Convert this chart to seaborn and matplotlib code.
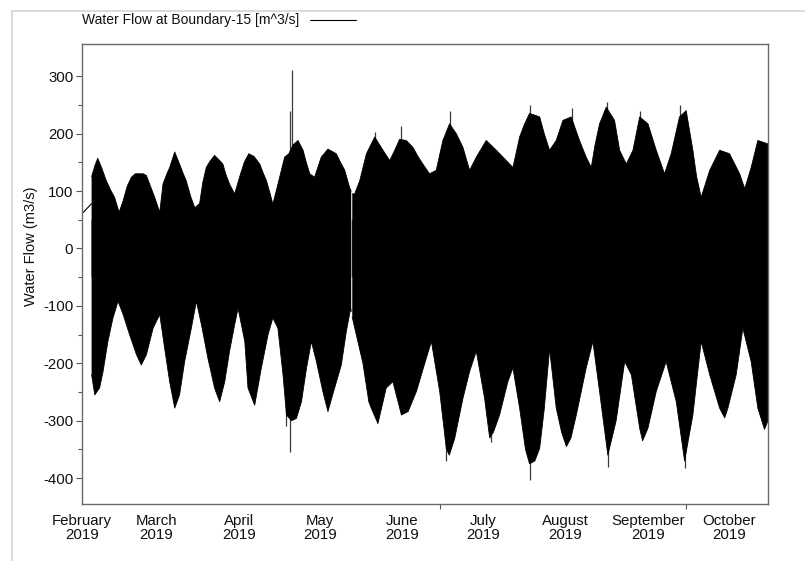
import numpy as np
import pandas as pd
import matplotlib
matplotlib.use("Agg")
import matplotlib.pyplot as plt
import seaborn as sns
from matplotlib.lines import Line2D

# ---------------- data ----------------
START = "2019-02-01"
SERIES_NAME = "Water Flow at Boundary-15 [m^3/s]"
Y_LABEL = "Water Flow (m3/s)"

# short connecting line before the dense record starts
LEAD_DAYS = [0.0, 3.7]
LEAD_FLOW = [60, 78]

# upper envelope of the tidal flow record (days after 1 Feb 2019, m3/s)
UP_DAYS = [3.7, 5.0, 6.0, 7.5, 9.2, 11.0, 12.3, 14.0, 15.5, 17.0, 18.6, 20.0,
           21.7, 23.0, 24.2, 26.0, 27.3, 29.2, 30.4, 31.7, 32.9, 34.8, 36.6,
           38.0, 39.1, 40.8, 42.3, 44.1, 45.3, 46.6, 48.0, 49.7, 51.2, 52.8,
           54.0, 55.3, 57.2, 59.1, 60.8, 62.5, 64.5, 66.6, 68.0, 69.1, 70.5,
           71.5, 73.4, 75.9, 77.5, 79.0, 80.9, 82.8, 84.0, 85.3, 87.1, 89.6,
           92.1, 95.2, 96.8, 98.4, 100.2, 100.8, 101.0, 101.2, 102.1, 104.0,
           106.5, 109.6, 112.7, 115.2, 117.0, 118.9, 121.4, 123.9, 125.8,
           127.6, 130.1, 132.6, 135.1, 137.6, 140.1, 142.6, 145.1, 147.6,
           151.3, 155.1, 158.8, 161.3, 163.8, 165.5, 167.5, 169.5, 171.3,
           173.0, 175.0, 177.5, 180.0, 183.1, 186.2, 188.7, 190.6, 192.0,
           193.7, 196.2, 199.3, 201.2, 203.7, 206.2, 208.7, 211.8, 214.9,
           218.0, 220.5, 223.6, 226.1, 228.6, 230.0, 231.7, 234.9, 238.6,
           242.3, 246.1, 248.0, 250.4, 252.9, 256.7]
UP_FLOW = [125, 145, 157, 140, 118, 100, 89, 63, 83, 108, 124, 130,
           130, 130, 127, 105, 89, 63, 112, 128, 141, 168, 147,
           130, 118, 90, 71, 78, 115, 141, 152, 162, 155, 147,
           128, 112, 95, 125, 150, 165, 160, 147, 130, 118, 95,
           77, 112, 159, 165, 180, 188, 171, 150, 130, 124, 159,
           173, 165, 150, 136, 106, 100, np.nan, 95, 95, 118,
           165, 194, 171, 153, 170, 190, 188, 176, 160,
           147, 130, 136, 188, 217, 200, 176, 136, 159,
           188, 171, 153, 141, 194, 215, 235, 232, 229,
           200, 171, 188, 223, 229, 188, 159, 141, 180,
           217, 246, 223, 171, 147, 171, 229, 217, 171,
           130, 165, 229, 240, 171, 125, 89, 136, 171,
           165, 130, 104, 141, 188, 182]

# lower envelope of the tidal flow record
LO_DAYS = [3.7, 4.9, 6.7, 8.0, 9.8, 11.7, 13.6, 15.5, 17.9, 20.5, 22.3, 24.2,
           26.7, 29.2, 31.0, 32.9, 34.8, 36.6, 38.5, 41.0, 42.9, 44.8, 47.2,
           49.7, 51.6, 53.5, 55.3, 57.2, 58.5, 61.0, 62.2, 64.7, 67.2, 69.7,
           71.5, 73.4, 75.3, 76.6, 78.5, 80.3, 82.2, 84.1, 85.9, 87.8, 90.2,
           92.1, 94.6, 97.1, 99.0, 100.6, 100.8, 101.0, 101.2, 102.7, 105.2,
           107.4, 108.3, 110.8, 113.9, 116.4, 119.6, 122.1, 125.2, 128.9,
           130.8, 133.9, 136.4, 137.5, 139.5, 142.6, 145.1, 147.6, 150.7,
           152.6, 154.0, 156.3, 159.4, 161.3, 163.8, 166.0, 167.5, 169.5,
           171.3, 173.0, 175.0, 177.5, 179.5, 181.3, 183.0, 185.0, 188.7,
           191.2, 193.7, 196.8, 199.9, 203.1, 205.6, 208.7, 209.8, 211.8,
           214.9, 218.6, 222.4, 225.5, 228.6, 231.7, 234.9, 238.6, 240.5,
           241.7, 244.8, 247.3, 250.4, 252.9, 255.4, 256.7]
LO_FLOW = [-220, -255, -243, -214, -162, -121, -92, -115, -150, -185, -203, -185,
           -139, -115, -173, -232, -278, -255, -197, -139, -92, -133, -191,
           -243, -267, -232, -179, -133, -104, -162, -243, -273, -208, -150,
           -121, -139, -220, -290, -300, -296, -267, -208, -162, -197, -249,
           -284, -243, -203, -144, -104, -110, np.nan, -120, -150, -200,
           -267, -278, -305, -243, -232, -290, -284, -249, -191,
           -162, -249, -349, -360, -331, -261, -214, -179, -261,
           -330, -320, -290, -232, -208, -278, -350, -375, -370,
           -348, -280, -175, -278, -320, -345, -330, -290, -208,
           -162, -249, -360, -300, -197, -220, -313, -335, -313,
           -249, -197, -267, -370, -290, -162, -220, -278, -295,
           -278, -220, -139, -197, -278, -315, -300]

# isolated spikes that stand out of the band
SPIKE_DAYS = [77.8, 78.8, 109.8, 119.6, 137.6, 167.8, 183.5, 196.5, 209.0, 223.6,
              76.6, 77.8, 136.4, 167.5, 196.8, 225.5, 153.2]
SPIKE_FLOW = [240, 310, 203, 214, 240, 250, 245, 255, 240, 250,
              -310, -354, -370, -404, -380, -383, -337]

MONTH_DATES = ["2019-02-01", "2019-03-01", "2019-04-01", "2019-05-01", "2019-06-01",
               "2019-07-01", "2019-08-01", "2019-09-01", "2019-10-01"]
MONTH_NAMES = ["February", "March", "April", "May", "June", "July", "August",
               "September", "October"]
YEAR = "2019"
MINOR_X_DATES = ["2019-06-15", "2019-09-15"]
Y_TICKS = [-400, -300, -200, -100, 0, 100, 200, 300]
Y_MINOR = [-350, -250, -150, -50, 50, 150, 250]

# ---------------- drawing ----------------
sns.set_theme(style="ticks")
plt.rcParams["font.family"] = ["Liberation Sans", "DejaVu Sans"]

start = pd.Timestamp(START)
def to_time(days):
    return start + pd.to_timedelta(np.asarray(days, dtype=float), unit="D")

t_up = to_time(UP_DAYS)
t_lo = to_time(LO_DAYS)
up = np.asarray(UP_FLOW, dtype=float)
lo = np.asarray(LO_FLOW, dtype=float)

fig = plt.figure(figsize=(8.05, 5.61), dpi=100)
ax = fig.add_axes([81.7 / 805, 1 - 504 / 561, (768 - 81.7) / 805, (504 - 44) / 561])

# spikes drawn underneath so only the part outside the band shows
ax.vlines(to_time(SPIKE_DAYS), 0, SPIKE_FLOW, color="#3a3a3a", linewidth=0.9,
          zorder=1)
# the two halves overlap around zero so no seam shows
ax.fill_between(t_up, -50, up, facecolor="black", linewidth=0, zorder=2)
ax.fill_between(t_lo, lo, 50, facecolor="black", linewidth=0, zorder=2)
ax.plot(t_up, up, color="black", linewidth=0.6, zorder=2)
ax.plot(t_lo, lo, color="black", linewidth=0.6, zorder=2)

lead = pd.DataFrame({"t": to_time(LEAD_DAYS), "flow": LEAD_FLOW})
sns.lineplot(data=lead, x="t", y="flow", ax=ax, color="black", linewidth=0.8)

ax.set_xlim(to_time([0.0])[0], to_time([256.7])[0])
ax.set_ylim(-445, 356)

ax.set_yticks(Y_TICKS)
ax.set_yticklabels([str(v) for v in Y_TICKS])
ax.set_yticks(Y_MINOR, minor=True)

ax.set_xticks(pd.to_datetime(MONTH_DATES))
ax.set_xticklabels([f"{m}\n{YEAR}" for m in MONTH_NAMES])
ax.set_xticks(pd.to_datetime(MINOR_X_DATES), minor=True)

ax.set_xlabel("")
ax.set_ylabel("")
ax.tick_params(axis="y", which="major", direction="out", length=4, width=0.8,
               color="#555555", labelsize=10.8, pad=2, labelcolor="#111111")
ax.tick_params(axis="y", which="minor", direction="out", length=3, width=0.8,
               color="#555555")
ax.tick_params(axis="x", which="major", length=0, labelsize=10.8, pad=7,
               labelcolor="#111111")
ax.tick_params(axis="x", which="minor", direction="out", length=3.5, width=0.8,
               color="#555555")
for lab in ax.get_xticklabels():
    lab.set_linespacing(1.05)

for side in ["left", "right", "top", "bottom"]:
    ax.spines[side].set_visible(True)
    ax.spines[side].set_color("#6a6a6a")
    ax.spines[side].set_linewidth(1.0)
ax.grid(False)
ax.set_facecolor("white")

# y label
fig.text(31 / 805, 1 - 246 / 561, Y_LABEL, rotation=90, ha="center", va="center",
         fontsize=10.5, color="#111111")

# series title with line sample (legend-like)
fig.text(82 / 805, 1 - 20 / 561, SERIES_NAME, ha="left", va="center",
         fontsize=10, color="#111111")
fig.add_artist(Line2D([310 / 805, 356 / 805], [1 - 20 / 561, 1 - 20 / 561],
                      color="black", linewidth=0.8, transform=fig.transFigure))

# light frame of the original window (left and top edges)
fig.add_artist(Line2D([12 / 805, 12 / 805], [0, 1 - 11 / 561], color="#d4d4d4",
                      linewidth=1.2, transform=fig.transFigure))
fig.add_artist(Line2D([12 / 805, 1], [1 - 11 / 561, 1 - 11 / 561], color="#d4d4d4",
                      linewidth=1.2, transform=fig.transFigure))

fig.savefig("out.png", dpi=100, facecolor="white")
